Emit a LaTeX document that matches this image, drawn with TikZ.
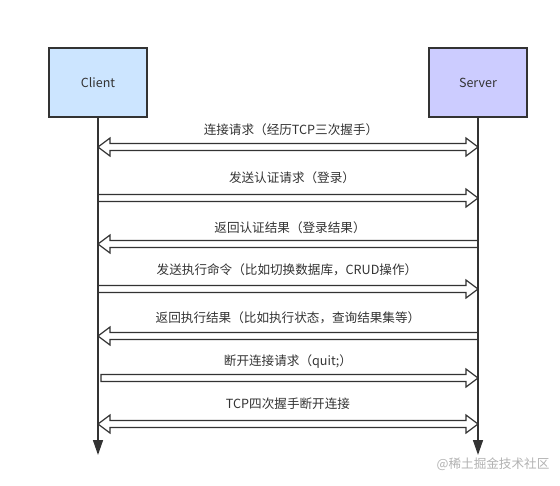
\documentclass[tikz,border=0pt]{standalone}
\usepackage{fontspec}
\setmainfont{Noto Sans CJK SC}
\usepackage{tikz}
\usetikzlibrary{positioning,calc,arrows.meta}

\definecolor{ink}{HTML}{333333}
\definecolor{clientfill}{HTML}{CCE5FF}
\definecolor{serverfill}{HTML}{CCCCFF}

\tikzset{
  actor/.style={draw=ink, line width=1.5pt, minimum width=98pt, minimum height=69pt,
    font=\fontsize{12.5}{14}\selectfont, text=ink},
  life/.style={draw=ink, line width=1.5pt, -{Triangle[width=10pt,length=15pt]}},
  msg/.style={draw=ink, line width=1.2pt},
  lbl/.style={font=\fontsize{12.6}{14}\selectfont, text=ink, inner sep=0pt},
}

% hollow block arrows between two lifeline points
\newcommand{\msgR}[2]{\draw[msg] ($(#1)+(0,-3.5)$) -- ($(#2)+(-12,-3.5)$) -- ($(#2)+(-12,-9)$) -- (#2)
  -- ($(#2)+(-12,9)$) -- ($(#2)+(-12,3.5)$) -- ($(#1)+(0,3.5)$) -- cycle;}
\newcommand{\msgL}[2]{\draw[msg] (#1) -- ($(#1)+(12,-9)$) -- ($(#1)+(12,-3.5)$) -- ($(#2)+(0,-3.5)$)
  -- ($(#2)+(0,3.5)$) -- ($(#1)+(12,3.5)$) -- ($(#1)+(12,9)$) -- cycle;}
\newcommand{\msgLR}[2]{\draw[msg] (#1) -- ($(#1)+(12,-9)$) -- ($(#1)+(12,-3.5)$) -- ($(#2)+(-12,-3.5)$)
  -- ($(#2)+(-12,-9)$) -- (#2) -- ($(#2)+(-12,9)$) -- ($(#2)+(-12,3.5)$) -- ($(#1)+(12,3.5)$)
  -- ($(#1)+(12,9)$) -- cycle;}

\begin{document}
\begin{tikzpicture}[x=1pt, y=-1pt]
  \useasboundingbox (0,0) rectangle (560,485);

  \node[actor, fill=clientfill]                          (client) at (98,82.5) {Client};
  \node[actor, fill=serverfill, right=280.5pt of client] (server) {Server};

  \coordinate (cend) at (client |- 0,455);
  \coordinate (send) at (server |- 0,455);
  \draw[life] (client.south) -- (cend);
  \draw[life] (server.south) -- (send);

  \foreach \i/\y in {1/147,2/198,3/244,4/289,5/336,6/378,7/424} {
    \coordinate (c\i) at (client |- 0,\y);
    \coordinate (s\i) at (server |- 0,\y);
  }
  \coordinate (q6) at ($(c6)+(3,0)$);

  \msgLR{c1}{s1};
  \msgR{c2}{s2};
  \msgL{c3}{s3};
  \msgR{c4}{s4};
  \msgL{c5}{s5};
  \msgR{q6}{s6};
  \msgLR{c7}{s7};

  \node[lbl] at ($(c1)!.5!(s1)+(3,-17)$) {连接请求（经历TCP三次握手）};
  \node[lbl] at ($(c2)!.5!(s2)+(4,-20)$) {发送认证请求（登录）};
  \node[lbl] at ($(c3)!.5!(s3)+(2,-16)$) {返回认证结果（登录结果）};
  \node[lbl] at ($(c4)!.5!(s4)+(-1,-19)$) {发送执行命令（比如切换数据库，CRUD操作）};
  \node[lbl] at ($(c5)!.5!(s5)+(0,-18)$) {返回执行结果（比如执行状态，查询结果集等）};
  \node[lbl] at ($(c6)!.5!(s6)+(0,-16)$) {断开连接请求（quit;）};
  \node[lbl] at ($(c7)!.5!(s7)+(0,-20)$) {TCP四次握手断开连接};

  \node[lbl, text=black!30] (mark) at (493,464) {@稀土掘金技术社区};
\end{tikzpicture}
\end{document}
